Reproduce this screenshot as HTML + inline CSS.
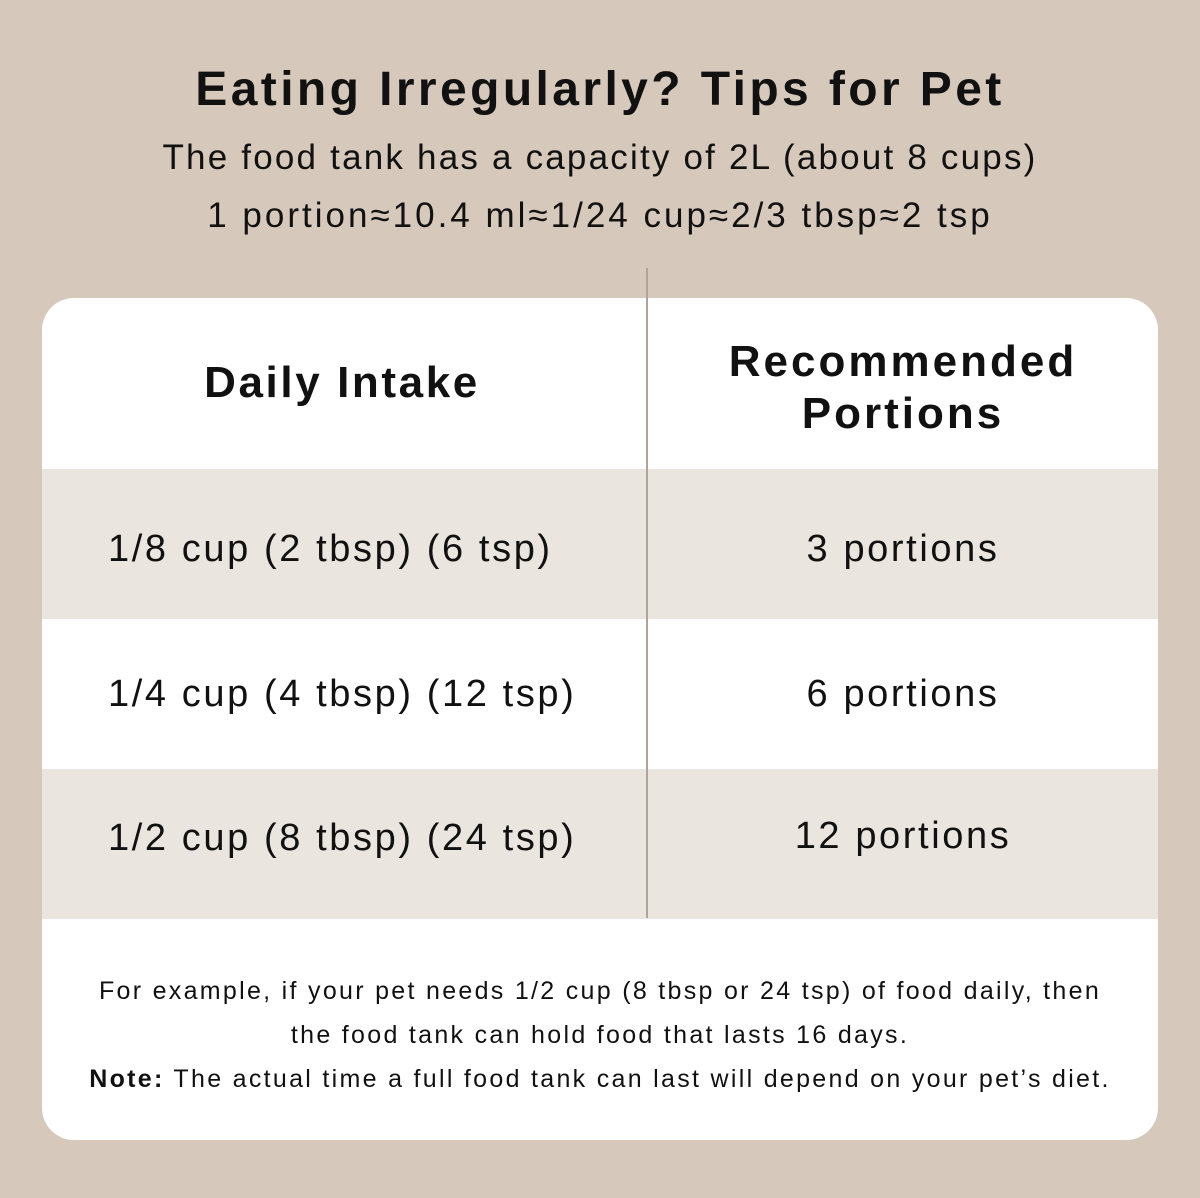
<!DOCTYPE html>
<html><head><style>
body{margin:0;width:1200px;height:1198px;background:#d6c8ba;font-family:"Liberation Sans",sans-serif;color:#111;position:relative;overflow:hidden}
.t{position:absolute;left:0;width:1200px;text-align:center;white-space:nowrap}
.card{position:absolute;left:42px;top:298px;width:1116px;height:842px;background:#fff;border-radius:32px;overflow:hidden}
.s{position:absolute;left:0;width:1116px;height:150px;background:#ebe5e0}
.vl{position:absolute;left:646px;top:268px;width:2px;height:650px;background:#b0a498}
.c{position:absolute;text-align:center;white-space:nowrap;font-size:38px;letter-spacing:2.6px}
</style></head><body>
<div class="t" style="top:62px;font-size:48px;font-weight:bold;letter-spacing:3.4px">Eating Irregularly? Tips for Pet</div>
<div class="t" style="top:138px;font-size:35px;letter-spacing:2.2px">The food tank has a capacity of 2L (about 8 cups)</div>
<div class="t" style="top:196px;font-size:35px;letter-spacing:3px">1 portion≈10.4 ml≈1/24 cup≈2/3 tbsp≈2 tsp</div>
<div class="card">
<div class="s" style="top:171px"></div>
<div class="s" style="top:471px"></div>
<div class="c" style="left:0;width:600px;top:60px;font-size:44px;font-weight:bold">Daily Intake</div>
<div class="c" style="left:606px;width:510px;top:38px;font-size:44px;font-weight:bold;line-height:52px;letter-spacing:3px">Recommended<br>Portions</div>
<div class="c" style="left:66px;top:230px">1/8 cup (2 tbsp) (6 tsp)</div>
<div class="c" style="left:66px;top:375px">1/4 cup (4 tbsp) (12 tsp)</div>
<div class="c" style="left:66px;top:519px">1/2 cup (8 tbsp) (24 tsp)</div>
<div class="c" style="left:606px;width:510px;top:230px">3 portions</div>
<div class="c" style="left:606px;width:510px;top:375px">6 portions</div>
<div class="c" style="left:606px;width:510px;top:517px">12 portions</div>
<div class="c" style="left:0;width:1116px;top:671px;font-size:25px;line-height:44px;letter-spacing:2.3px">For example, if your pet needs 1/2 cup (8 tbsp or 24 tsp) of food daily, then<br>the food tank can hold food that lasts 16 days.<br><b>Note:</b> The actual time a full food tank can last will depend on your pet’s diet.</div>
</div>
<div class="vl"></div>
</body></html>
